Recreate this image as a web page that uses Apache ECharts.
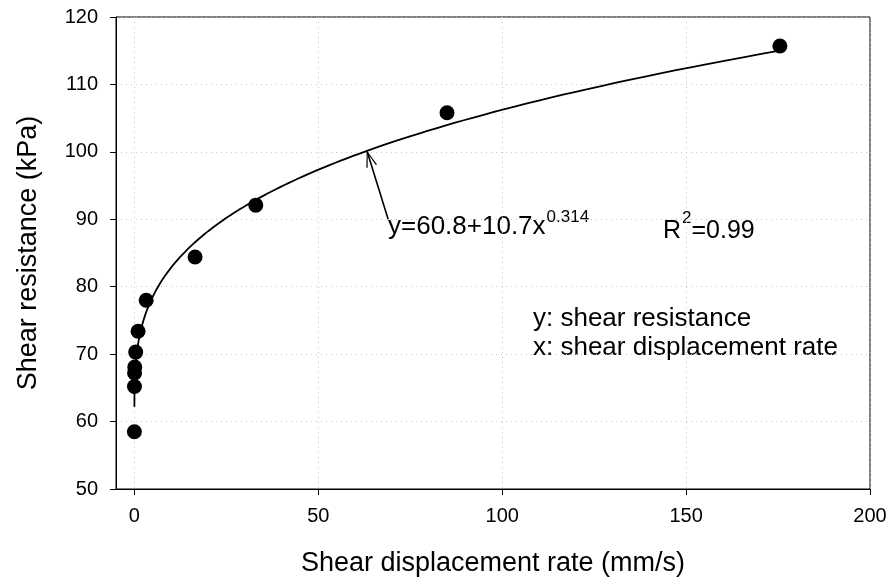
<!DOCTYPE html>
<html><head><meta charset="utf-8">
<script src="https://cdn.jsdelivr.net/npm/echarts@6/dist/echarts.min.js"></script>
<style>html,body{margin:0;padding:0;background:#fff}#c{width:893px;height:586px}</style>
</head><body><div id="c"></div>
<script>
// Measured points (shear displacement rate mm/s, shear resistance kPa)
const rateValues = [175.5, 85, 33, 16.5, 3.2, 1.0, 0.35, 0.1, 0.05, 0.02, 0.0];
const resistanceValues = [115.7, 105.8, 92.1, 84.4, 78.0, 73.4, 70.3, 68.1, 67.2, 65.2, 58.5];
const xTickValues = [0, 50, 100, 150, 200];
const yTickValues = [50, 60, 70, 80, 90, 100, 110, 120];
// Fitted curve printed on the chart: y = 60.8 + 10.7 x^0.314
const fitA = 60.8, fitB = 10.7, fitC = 0.314;
const fitRange = [0.0015, 175.5];
const arrowFrom = [69.0, 90.0];
const arrowTo = [63.3, 100.0];
const eqText = 'y=60.8+10.7x', eqSup = '0.314';
const r2Text = ['R', '2', '=0.99'];
const noteLines = ['y: shear resistance', 'x: shear displacement rate'];

const FONT = '"Liberation Sans", Arial, sans-serif';
const pts = rateValues.map((x, i) => [x, resistanceValues[i]]);
const fit = [];
const n = 400;
for (let i = 0; i < n; i++) {
  const x = fitRange[0] * Math.pow(fitRange[1] / fitRange[0], i / (n - 1));
  fit.push([x, fitA + fitB * Math.pow(x, fitC)]);
}
const mctx = document.createElement('canvas').getContext('2d');
function textW(t, size) { mctx.font = size + 'px ' + FONT; return mctx.measureText(t).width; }

const chart = echarts.init(document.getElementById('c'), null, {renderer: 'canvas'});
const txt = (x, y, text, size) => ({type: 'text', x: x, y: y, silent: true,
  style: {text: text, fontSize: size, fontFamily: FONT, fill: '#000', verticalAlign: 'middle', align: 'left'}});
const eqX = 388, eqSize = 26;
const r2X = 663, r2Size = 25;
chart.setOption({
  animation: false,
  backgroundColor: '#fff',
  grid: {left: 116, right: 23, top: 17, bottom: 97, show: true, borderColor: '#000', borderWidth: 1, backgroundColor: 'transparent'},
  xAxis: {
    type: 'value', min: -5, max: 200,
    name: 'Shear displacement rate (mm/s)', nameLocation: 'middle', nameGap: 61,
    nameTextStyle: {fontSize: 27, fontFamily: FONT, color: '#000'},
    axisLine: {show: true, onZero: false, lineStyle: {color: '#000', width: 1}},
    axisTick: {show: true, inside: false, length: 6, customValues: xTickValues, lineStyle: {color: '#000'}},
    axisLabel: {customValues: xTickValues, fontSize: 20, fontFamily: FONT, color: '#000', margin: 17},
    splitLine: {show: true, lineStyle: {color: '#c4c4c4', width: 1, type: [1, 4]}}
  },
  yAxis: {
    type: 'value', min: 50, max: 120, interval: 10,
    name: 'Shear resistance (kPa)', nameLocation: 'middle', nameGap: 74, nameRotate: 90,
    nameTextStyle: {fontSize: 27, fontFamily: FONT, color: '#000'},
    axisLine: {show: true, onZero: false, lineStyle: {color: '#000', width: 1}},
    axisTick: {show: true, inside: false, length: 6, lineStyle: {color: '#000'}},
    axisLabel: {fontSize: 20, fontFamily: FONT, color: '#000', margin: 18},
    splitLine: {show: true, lineStyle: {color: '#c4c4c4', width: 1, type: [1, 4]}}
  },
  series: [
    {
      type: 'line', data: fit, showSymbol: false, symbol: 'none', silent: true,
      lineStyle: {color: '#000', width: 1.8}, z: 2,
      markLine: {
        silent: true, animation: false,
        symbol: ['none', 'path://M0,0 L6,14 L4.8,14.6 L0,2.8 L-4.8,14.6 L-6,14 Z'],
        symbolSize: [11, 17],
        symbolOffset: [0, [0, 7]],
        lineStyle: {color: '#000', width: 1.6, type: 'solid'},
        label: {show: false},
        emphasis: {disabled: true},
        data: [[{coord: arrowFrom}, {coord: arrowTo}]]
      }
    },
    {
      type: 'scatter', data: pts, symbol: 'circle', symbolSize: 15,
      itemStyle: {color: '#000', opacity: 1}, z: 3
    }
  ],
  graphic: [
    txt(eqX, 227, eqText, eqSize),
    txt(eqX + textW(eqText, eqSize) + 1, 217, eqSup, 17),
    txt(r2X, 231, r2Text[0], r2Size),
    txt(r2X + textW(r2Text[0], r2Size) + 1, 218, r2Text[1], 17),
    txt(r2X + textW(r2Text[0], r2Size) + textW(r2Text[1], 17) + 1, 231, r2Text[2], r2Size),
    txt(533, 319, noteLines[0], 26),
    txt(533, 348, noteLines[1], 26)
  ]
});
</script></body></html>
